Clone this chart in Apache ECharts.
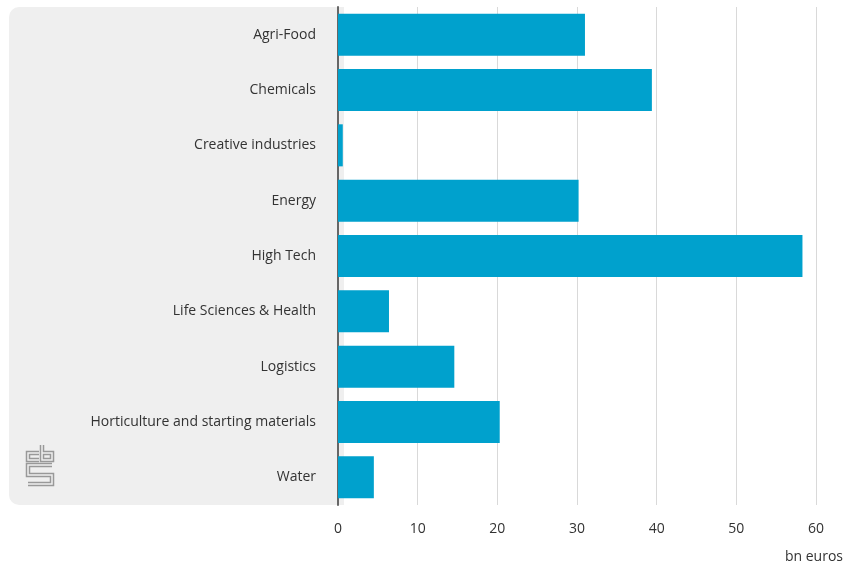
<!DOCTYPE html>
<html><head><meta charset="utf-8">
<script src="https://cdn.jsdelivr.net/npm/echarts@6/dist/echarts.min.js"></script>
<style>html,body{margin:0;padding:0;background:#fff}#c{width:845px;height:569px}</style>
</head><body><div id="c"></div>
<script>
const categories = ["Agri-Food","Chemicals","Creative industries","Energy","High Tech","Life Sciences & Health","Logistics","Horticulture and starting materials","Water"];
const values = [31.0, 39.4, 0.6, 30.2, 58.3, 6.4, 14.6, 20.3, 4.5];
const xTicks = [0, 10, 20, 30, 40, 50, 60];
const unitLabel = "bn euros";

const font = '"Open Sans", "Noto Sans", sans-serif';
const chart = echarts.init(document.getElementById('c'));
const logoStroke = (pts) => [
  {type:'polyline', z:-5, shape:{points:pts}, style:{stroke:'#999', lineWidth:4.5, fill:null, lineJoin:'miter'}},
  {type:'polyline', z:-4, shape:{points:pts}, style:{stroke:'#efefef', lineWidth:1.5, fill:null, lineJoin:'miter'}}
];
chart.setOption({
  animation:false,
  textStyle:{fontFamily:font},
  grid:{left:338, right:29, top:7, bottom:64, containLabel:false},
  xAxis:{type:'value', min:xTicks[0], max:xTicks[xTicks.length-1], interval:10,
    axisLine:{show:false}, axisTick:{show:false},
    splitLine:{show:true, lineStyle:{color:'#d9d9d9', width:1}},
    axisLabel:{color:'#333', fontSize:14, margin:17, fontFamily:font}},
  yAxis:{type:'category', data:categories, inverse:true,
    axisLine:{show:true, lineStyle:{color:'#666', width:2}},
    axisTick:{show:false},
    axisLabel:{color:'#333', fontSize:14, margin:22, padding:[4,0,0,0], fontFamily:font}},
  series:[{type:'bar', data:values, barCategoryGap:'24%',
    itemStyle:{color:'#00a1cd'}, z:2}],
  graphic:[
    {type:'rect', z:-10, shape:{x:9, y:7, width:335, height:498, r:[10,0,0,10]}, style:{fill:'#efefef'}},
    ...logoStroke([[39,453],[28,453],[28,460],[39,460]]),
    ...logoStroke([[42,445],[42,460],[52,460],[52,453],[42,453]]),
    ...logoStroke([[52,465],[28,465],[28,475],[52,475],[52,484],[28,484]]),
    {type:'text', z:10, right:2, top:550, style:{text:unitLabel, fill:'#333', font:'14px '+font, textAlign:'right'}}
  ]
});
</script></body></html>
